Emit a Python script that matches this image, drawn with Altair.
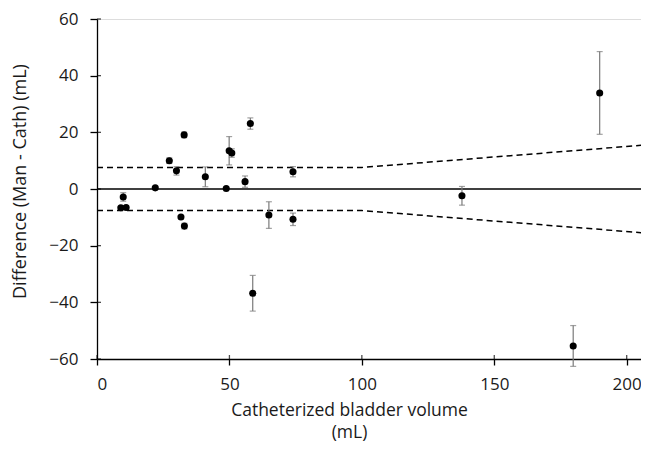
import altair as alt
import pandas as pd

# Data
vol = [9.9, 9.0, 11.0, 22.0, 27.3, 30.0, 32.9, 31.7, 33.0, 40.9, 48.8, 49.9, 50.9,
       55.9, 57.9, 58.8, 64.9, 74.0, 74.0, 137.8, 179.8, 189.8]
diff = [-2.8, -6.6, -6.5, 0.4, 10.0, 6.4, 19.1, -9.9, -13.1, 4.3, 0.2, 13.5, 12.7,
        2.6, 23.1, -36.8, -9.2, 6.1, -10.7, -2.4, -55.4, 33.9]
err = [1.5, 0.5, 0.5, 0.0, 1.0, 1.5, 1.0, 0.5, 1.0, 3.5, 0.0, 5.0, 1.5,
       2.0, 2.0, 6.3, 4.7, 1.8, 2.2, 3.3, 7.2, 14.6]

# Limits of agreement (dashed)
loa_x = [0, 100, 208]
loa_upper = [7.6, 7.6, 15.6]
loa_lower = [-7.6, -7.6, -15.6]

y_ticks = [-60, -40, -20, 0, 20, 40, 60]
x_ticks = [0, 50, 100, 150, 200]

pts = pd.DataFrame({"vol": vol, "diff": diff, "err": err})
pts["lo"] = pts["diff"] - pts["err"]
pts["hi"] = pts["diff"] + pts["err"]
ebars = pts[pts["err"] > 0]

loa = pd.DataFrame({
    "vol": loa_x + loa_x,
    "val": loa_upper + loa_lower,
    "bound": ["upper"] * 3 + ["lower"] * 3,
})
zero = pd.DataFrame({"y": [0]})
xt = pd.DataFrame({"v": x_ticks, "base": [-60] * len(x_ticks)})
yt = pd.DataFrame({"v": y_ticks, "base": [0] * len(y_ticks)})

FONT = "Open Sans"
TXT = "#1a1a1a"
xscale = alt.Scale(domain=[0, 205.4], nice=False, zero=False)
yscale = alt.Scale(domain=[-60, 60], nice=False)

xax = alt.Axis(values=x_ticks, grid=False, domainColor="black", tickColor="black",
               tickSize=6, domainWidth=1.3, tickWidth=1.3, labelPadding=11,
               labelFontSize=17, labelFont=FONT, labelColor=TXT,
               title=["Catheterized bladder volume", "(mL)"], titleFont=FONT,
               titleFontSize=17.5, titleFontWeight="normal", titleColor=TXT,
               titleX=252, titleY=42, titleBaseline="top", titleAlign="center",
               titleAnchor="start", titleLineHeight=22.5)
yax = alt.Axis(values=y_ticks, grid=False, domainColor="black", tickColor="black",
               tickSize=7, domainWidth=1.3, tickWidth=1.3, labelPadding=12,
               labelFontSize=17, labelFont=FONT, labelColor=TXT,
               title="Difference (Man - Cath) (mL)", titleFont=FONT,
               titleFontSize=18, titleFontWeight="normal", titleColor=TXT,
               titleX=-77, titleY=162, titleBaseline="middle", titleAlign="center",
               titleAnchor="start", titleAngle=270)

X = lambda f: alt.X(f, scale=xscale, axis=xax)
Y = lambda f: alt.Y(f, scale=yscale, axis=yax)

zline = alt.Chart(zero).mark_rule(color="black", strokeWidth=1.3).encode(y=Y("y:Q"))

# inward halves of the crossing tick marks
xin = alt.Chart(xt).mark_tick(color="black", orient="vertical", size=4, thickness=1.3, yOffset=-2).encode(
    x=X("v:Q"), y=Y("base:Q"))
yin = alt.Chart(yt).mark_tick(color="black", orient="horizontal", size=4, thickness=1.3, xOffset=2).encode(
    x=X("base:Q"), y=Y("v:Q"))

lines = alt.Chart(loa).mark_line(color="black", strokeWidth=1.5, strokeDash=[6, 4], clip=True).encode(
    x=X("vol:Q"), y=Y("val:Q"), detail="bound:N")

rules = alt.Chart(ebars).mark_rule(color="#7a7a7a", strokeWidth=1.2).encode(
    x=X("vol:Q"), y=Y("lo:Q"), y2="hi:Q")
cap_lo = alt.Chart(ebars).mark_tick(color="#7a7a7a", orient="horizontal", size=6, thickness=1.2).encode(
    x=X("vol:Q"), y=Y("lo:Q"))
cap_hi = alt.Chart(ebars).mark_tick(color="#7a7a7a", orient="horizontal", size=6, thickness=1.2).encode(
    x=X("vol:Q"), y=Y("hi:Q"))

dots = alt.Chart(pts).mark_circle(color="black", opacity=1, size=50).encode(
    x=X("vol:Q"), y=Y("diff:Q"))

chart = alt.layer(zline, xin, yin, lines, rules, cap_lo, cap_hi, dots).properties(
    width=544, height=340,
    autosize=alt.AutoSizeParams(type="none"),
    padding={"left": 89, "top": 11, "right": 0, "bottom": 85},
).configure_view(stroke=None).configure(background="white")

chart.save("out.html", embed_options={"renderer": "svg", "actions": False})
